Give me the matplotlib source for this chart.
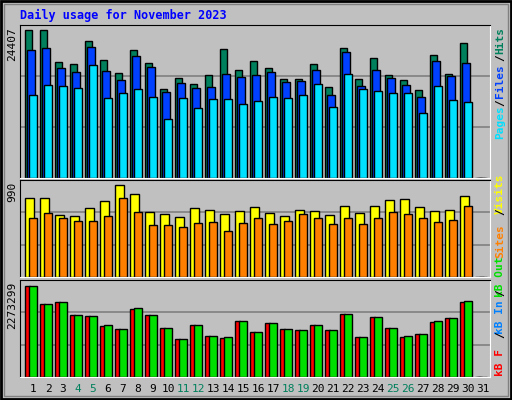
import matplotlib.pyplot as plt
from matplotlib.patches import Rectangle
import numpy as np

days = list(range(1, 32))
weekend = [4, 5, 11, 12, 18, 19, 25, 26]

hits = [24407, 24407, 19100, 18760, 22640, 19440, 17280, 21100, 18940, 14600, 16430, 15430, 16930, 21270, 17760, 19270, 18100, 16260, 16260, 18760, 14940, 21440, 16260, 19770, 16930, 16100, 14440, 20270, 17100, 22270, 0]
files = [21100, 21430, 18100, 17430, 21600, 17600, 16100, 20100, 18270, 14100, 15600, 14770, 14940, 17100, 16600, 16930, 17430, 15770, 15940, 17770, 13770, 20770, 15100, 17770, 16430, 15270, 13440, 19270, 16770, 18940, 0]
pages = [13770, 15270, 15100, 14770, 18600, 13270, 13940, 14600, 13440, 9770, 13270, 11600, 13100, 13100, 12270, 12770, 13440, 13270, 13770, 15430, 11770, 17100, 14600, 14270, 13940, 13940, 10770, 15100, 12940, 12600, 0]
visits = [854, 854, 670, 660, 745, 818, 990, 894, 700, 680, 650, 745, 725, 680, 710, 755, 690, 660, 725, 710, 670, 765, 690, 765, 830, 840, 755, 710, 725, 872, 0]
sites = [630, 690, 630, 600, 600, 660, 852, 700, 560, 560, 540, 580, 590, 490, 580, 630, 570, 600, 680, 630, 570, 640, 570, 630, 700, 680, 630, 590, 610, 760, 0]
kb_f = [2273299, 1824000, 1874000, 1550000, 1524000, 1275000, 1200000, 1699000, 1550000, 1225000, 950000, 1300000, 1025000, 975000, 1399000, 1125000, 1350000, 1200000, 1175000, 1300000, 1175000, 1574000, 1000000, 1500000, 1225000, 1000000, 1075000, 1374000, 1474000, 1874000, 0]
kb_in = [0] * 31
kb_out = [2273299, 1824000, 1874000, 1550000, 1524000, 1300000, 1200000, 1724000, 1550000, 1225000, 950000, 1300000, 1025000, 1000000, 1399000, 1125000, 1350000, 1200000, 1175000, 1300000, 1175000, 1574000, 1000000, 1500000, 1225000, 1025000, 1075000, 1399000, 1474000, 1899000, 0]

W, H = 512, 400
fig = plt.figure(figsize=(5.12, 4.0), dpi=100, facecolor='#C0C0C0')
mono = 'DejaVu Sans Mono'
fig.patches.append(Rectangle((1, 1), W - 2, H - 2, transform=None, fill=False,
                             edgecolor='black', linewidth=2))
fig.patches.append(Rectangle((4, 4), W - 8, H - 8, transform=None, fill=False,
                             edgecolor='#808080', linewidth=1))


def make_ax(y0, y1):
    ax = fig.add_axes([20 / W, 1 - y1 / H, 470 / W, (y1 - y0) / H])
    ax.set_facecolor('#C0C0C0')
    ax.set_xlim(0, 470 / 15)
    ax.set_xticks([])
    ax.set_yticks([])
    for s in ['left', 'top']:
        ax.spines[s].set_color('black')
    for s in ['right', 'bottom']:
        ax.spines[s].set_color('white')
    for f in (1 / 3, 2 / 3):
        ax.plot([0, 1], [f, f], color='#808080', lw=1.2, transform=ax.transAxes, zorder=0)
    return ax


x = np.array(days) - 1 + 0.35
kw = dict(align='edge', edgecolor='black', linewidth=1)

ax1 = make_ax(25, 178)
ax1.bar(x, hits, 0.47, color='#00805C', **kw)
ax1.bar(x + 0.13, files, 0.5, color='#0040FF', **kw)
ax1.bar(x + 0.25, pages, 0.5, color='#00E0FF', **kw)
ax1.set_ylim(0, max(hits) * 153 / 148)

ax2 = make_ax(180, 277)
ax2.bar(x, visits, 0.55, color='#FFFF00', **kw)
ax2.bar(x + 0.25, sites, 0.5, color='#FF8000', **kw)
ax2.set_ylim(0, max(visits) * 97 / 92)

ax3 = make_ax(280, 377)
ax3.bar(x, kb_f, 0.29, color='#FF0000', **kw)
ax3.bar(x + 0.13, kb_in, 0.29, color='#0080FF', **kw)
ax3.bar(x + 0.27, kb_out, 0.49, color='#00E000', **kw)
ax3.set_ylim(0, max(kb_f) * 97 / 91)

# title and y labels
fig.text(20 / W, 1 - 15 / H, 'Daily usage for November 2023', color='#0000FF',
         family=mono, weight='bold', fontsize=8.5, va='center')
for val, ytop in [(max(hits), 27), (max(visits), 182), (max(kb_f), 282)]:
    fig.text(12 / W, 1 - ytop / H, str(val), rotation=90, family=mono,
             fontsize=8, va='top', ha='center')

# right-side legend words
legend = [('Hits', '#00805C', 40), ('/', 'black', 58), ('Files', '#0040FF', 81),
          ('/', 'black', 103), ('Pages', '#00E0FF', 122),
          ('Visits', '#FFFF00', 194), ('/', 'black', 212), ('Sites', '#FF8000', 241),
          ('kB Out', '#00E000', 277), ('/', 'black', 293), ('kB In', '#0080FF', 317),
          ('/', 'black', 335), ('kB F', '#FF0000', 363)]
for word, col, yc in legend:
    fig.text(500 / W, 1 - yc / H, word, rotation=90, color=col, family=mono,
             weight='bold', fontsize=8, ha='center', va='center')

# day labels
for d in days:
    col = '#00805C' if d in weekend else 'black'
    fig.text((20 + (d - 1 + 0.87) * 15) / W, 1 - 389 / H, str(d), color=col,
             family=mono, fontsize=8, ha='center', va='center')

fig.savefig('out.png', dpi=100, facecolor='#C0C0C0')
